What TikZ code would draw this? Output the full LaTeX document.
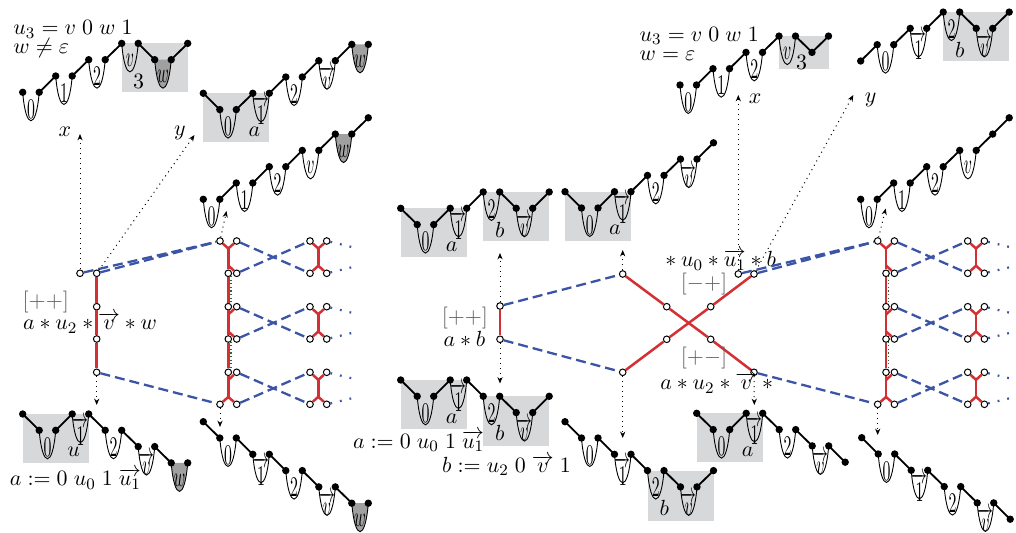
\documentclass[tikz,border=0pt]{standalone}
\usepackage{amsmath,amssymb}
\usetikzlibrary{positioning,calc,arrows.meta}

\definecolor{linkred}{RGB}{212,48,52}
\definecolor{linkblue}{RGB}{60,84,166}
\definecolor{linkgreen}{RGB}{50,100,50}
\definecolor{boxgray}{RGB}{215,216,218}
\definecolor{wgray}{RGB}{160,160,160}
\definecolor{signgray}{RGB}{95,95,95}

\pgfdeclarelayer{back}
\pgfsetlayers{back,main}

% squeezed label inside a loop
\newcommand\bublab[1]{\scalebox{.72}[1.3]{$#1$}}
\newcommand\arone{\overrightarrow{1}}
\newcommand\arv{\overrightarrow{v}}

% lattice path: name, start, steps (u = up, d = down, b = loop, g = grey loop)
\newcommand\mtn[3]{%
  \coordinate (#1-0) at #2;
  \foreach \kind/\lab [count=\i] in {#3}{%
    \pgfmathtruncatemacro\j{\i-1}%
    \if\kind u%
      \path (#1-\j) ++(16.5,-16.3) coordinate (#1-\i);
      \draw[mtnline] (#1-\j) -- (#1-\i);
    \fi
    \if\kind d%
      \path (#1-\j) ++(16.5,16.3) coordinate (#1-\i);
      \draw[mtnline] (#1-\j) -- (#1-\i);
    \fi
    \if\kind b%
      \path (#1-\j) ++(16.5,0) coordinate (#1-\i);
      \draw[bubline] (#1-\j) .. controls +(3,38) and +(-3,38) .. (#1-\i);
      \path (#1-\j) ++(8.25,17) node[inner sep=0pt] (#1-l\i) {\bublab{\lab}};
    \fi
    \if\kind g%
      \path (#1-\j) ++(16.5,0) coordinate (#1-\i);
      \filldraw[bubline, fill=wgray] (#1-\j) .. controls +(3,38) and +(-3,38) .. (#1-\i);
      \path (#1-\j) ++(8.25,17) node[inner sep=0pt] (#1-l\i) {\bublab{\lab}};
    \fi
    \xdef\mtnlast{\i}%
  }%
  \foreach \k in {0,...,\mtnlast} \node[blackdot] (#1-d\k) at (#1-\k) {};
}

% column of pairs with its three small units: name, x of column
\newcommand\ladder[2]{%
  \node[opendot] (#1t1) at (#2,241) {};
  \node[opendot] (#1t2) at (#2+16.7,241) {};
  \node[opendot] (#1b1) at (#2,404.3) {};
  \node[opendot] (#1b2) at (#2+16.7,404.3) {};
  \foreach \row/\yy in {2/273.3,3/306.7,4/339,5/372.3}{%
    \node[opendot] (#1m\row-a) at (#2+8.3,\yy) {};
    \node[opendot] (#1m\row-b) at (#2+16.7,\yy) {};
  }
  \coordinate (#1ja) at (#2+8.3,248.5);
  \coordinate (#1jb) at (#2+8.3,397);
  \draw[redline] (#1t1) -- (#1ja) -- (#1t2);
  \draw[redline] (#1b1) -- (#1jb) -- (#1b2);
  \draw[redline] (#1ja) -- (#1m2-a) -- (#1m3-a) -- (#1m4-a) -- (#1m5-a) -- (#1jb);
  \draw[redline] (#2+8.3,265.5) -- (#1m2-b);
  \draw[redline] (#2+8.3,314.5) -- (#1m3-b);
  \draw[redline] (#2+8.3,331.5) -- (#1m4-b);
  \draw[redline] (#2+8.3,380) -- (#1m5-b);
  \draw[greendot] (#1m2-a.south east) -- (#1m3-a.north east);
  \draw[greendot] (#1m4-a.south east) -- (#1m5-a.north east);
  \foreach \k/\yt/\yb/\ct/\cb in {1/241/273.3/t2/m2-b,2/306.7/339/m3-b/m4-b,3/372.3/404.3/m5-b/b2}{%
    \node[opendot] (#1u\k-a) at (#2+90,\yt) {};
    \node[opendot] (#1u\k-b) at (#2+106.7,\yt) {};
    \node[opendot] (#1u\k-c) at (#2+90,\yb) {};
    \node[opendot] (#1u\k-d) at (#2+106.7,\yb) {};
    \coordinate (#1u\k-j) at (#2+98.3,\yt+7.5);
    \coordinate (#1u\k-k) at (#2+98.3,\yb-7.5);
    \draw[redline] (#1u\k-a) -- (#1u\k-j) -- (#1u\k-b);
    \draw[redline] (#1u\k-c) -- (#1u\k-k) -- (#1u\k-d);
    \draw[redline] (#1u\k-j) -- (#1u\k-k);
    \draw[bluedash] (#1\ct) -- (#1u\k-c);
    \draw[bluedash] (#1\cb) -- (#1u\k-a);
    \coordinate (#1u\k-e) at (#2+136,\yt+7);
    \coordinate (#1u\k-f) at (#2+136,\yb-7);
    \draw[bluedot] (#1u\k-b) -- (#1u\k-e);
    \draw[bluedot] (#1u\k-d) -- (#1u\k-f);
  }
}

\begin{document}
\begin{tikzpicture}[
    x=0.5pt, y=-0.5pt,
    >={Stealth[length=3.2pt,width=2.6pt]},
    every node/.style={font=\fontsize{10.8}{13}\selectfont},
    lbl/.style={anchor=base west, inner sep=0pt},
    blackdot/.style={circle, fill=black, inner sep=0pt, minimum size=3.7pt},
    opendot/.style={circle, draw=black, fill=white, inner sep=0pt, minimum size=3.3pt, line width=0.5pt},
    mtnline/.style={line width=0.9pt},
    bubline/.style={line width=0.45pt},
    hilite/.style={fill=boxgray},
    redline/.style={draw=linkred, line width=1.25pt},
    bluedash/.style={draw=linkblue, line width=1.15pt, dash pattern=on 5pt off 2.5pt},
    bluedot/.style={draw=linkblue, line width=1.1pt, dash pattern=on 0.9pt off 4pt},
    greendot/.style={draw=linkgreen, line width=0.6pt, dash pattern=on 0.6pt off 1.2pt},
    jump/.style={->, dotted, line width=0.5pt},
    sign/.style={text=signgray}
]
\useasboundingbox (0,0) rectangle (1016,533);

% ---------------- left figure ----------------
\node[lbl] (lhead1) at (13,35) {$u_3 = v\;0\;w\;1$};
\node[lbl] (lhead2) at (13,53.5) {$w \neq \varepsilon$};

\mtn{pa}{(22.7,92.3)}{b/0,u,b/1,u,b/2,u,b/v,d,g/w,u}
\mtn{pb}{(203.3,93.3)}{d,b/0,u,b/\arone,u,b/2,u,b/\arv,u,g/w}
\mtn{pc}{(203.3,199.3)}{b/0,u,b/1,u,b/2,u,b/v,u,g/w,u}
\mtn{pd}{(22.7,414)}{d,b/0,u,b/\arone,d,b/2,d,b/\arv,d,g/w}
\mtn{pe}{(203.3,421.7)}{d,b/0,d,b/\arone,d,b/2,d,b/\arv,d,g/w}

% pair and red edge
\node[opendot] (lx) at (80,273.3) {};
\node[opendot] (ltop) at (96.7,273.3) {};
\node[opendot] (lm1) at (96.7,306.7) {};
\node[opendot] (lm2) at (96.7,339) {};
\node[opendot] (lbot) at (96.7,372.3) {};
\draw[redline] (ltop) -- (lm1) -- (lm2) -- (lbot);

\node[sign] (lsign) at (45.8,301.7) {$[{+}{+}]$};
\node[lbl] (lword) at (22.7,330) {$a*u_2*\overrightarrow{v}*w$};
\node[lbl] (ladef) at (9.5,486) {$a := 0\;u_0\;1\;\overrightarrow{u_1}$};

\ladder{c}{220}

\draw[bluedash] (lx) -- (ct1);
\draw[bluedash] (ltop) -- (ct1);
\draw[bluedash] (lbot) -- (cb1);

% arrows to the paths
\coordinate (lxt) at (80,134);
\coordinate (lyt) at (194.5,135);
\coordinate (ldn) at (96.7,405);
\coordinate (cup) at (226.5,211);
\coordinate (cdn) at (220,427);
\draw[jump] (lx) -- (lxt);
\draw[jump] (ltop) -- (lyt);
\draw[jump] (lbot) -- (ldn);
\draw[jump] (ct1) -- (cup);
\draw[jump] (cb1) -- (cdn);
\node (lxlab) at (65,132) {$x$};
\node (lylab) at (180,133) {$y$};

% ---------------- right figure ----------------
\node[lbl] (rhead1) at (639.3,41.7) {$u_3 = v\;0\;w\;1$};
\node[lbl] (rhead2) at (639.3,61) {$w = \varepsilon$};

\mtn{pf}{(680,85)}{b/0,u,b/1,u,b/2,u,b/v,d,u}
\mtn{pg}{(860.7,61)}{u,b/0,u,b/\arone,u,b/2,d,b/\arv,u}
\mtn{ph}{(860.7,199.3)}{b/0,u,b/1,u,b/2,u,b/v,u,u}
\mtn{pi}{(861.7,437.7)}{d,b/0,d,b/\arone,d,b/2,d,b/\arv,d}
\mtn{pj}{(400.7,208.3)}{d,b/0,u,b/\arone,u,b/2,d,b/\arv,u}
\mtn{pk}{(565,191.7)}{d,b/0,u,b/\arone,u,b/2,u,b/\arv,u}
\mtn{pl}{(400.7,380)}{d,b/0,u,b/\arone,d,b/2,d,b/\arv,u}
\mtn{pm}{(565,421.7)}{d,b/0,d,b/\arone,d,b/2,d,b/\arv,u}
\mtn{pn}{(696.7,413.3)}{d,b/0,u,b/\arone,d,b/2,d,b/\arv,d}

% pair with red edge
\node[opendot] (ma) at (500,306) {};
\node[opendot] (mb) at (500,339.3) {};
\draw[redline] (ma) -- (mb);
\node[sign] (msign) at (465,318.3) {$[{+}{+}]$};
\node[lbl] (mword) at (443.3,347) {$a*b$};
\node[lbl] (madef) at (352.6,448.3) {$a := 0\;u_0\;1\;\overrightarrow{u_1}$};
\node[lbl] (mbdef) at (441.7,472.5) {$b := u_2\;0\;\overrightarrow{v}\;1$};

% crossing red edges
\node[opendot] (xtl) at (622.7,274) {};
\node[opendot] (xbl) at (622.7,372.3) {};
\node[opendot] (xtr) at (754,274) {};
\node[opendot] (xbr) at (754,372.3) {};
\node[opendot] (xpair) at (738.3,274) {};
\node[opendot] (xm1) at (666.7,306.7) {};
\node[opendot] (xm2) at (710.7,339.3) {};
\node[opendot] (xm3) at (666.7,339.3) {};
\node[opendot] (xm4) at (710.7,306.7) {};
\draw[redline] (xtl) -- (xm1) -- (xm2) -- (xbr);
\draw[redline] (xbl) -- (xm3) -- (xm4) -- (xtr);
\draw[bluedash] (ma) -- (xtl);
\draw[bluedash] (mb) -- (xbl);

\node[sign] (xsign1) at (704,284) {$[{-}{+}]$};
\node[sign] (xsign2) at (704,358.3) {$[{+}{-}]$};
\node[lbl] (xword1) at (660,267) {${}*u_0*\overrightarrow{u_1}*b$};
\node[lbl] (xword2) at (660,390) {$a*u_2*\overrightarrow{v}*{}$};

\ladder{r}{877.7}

\draw[bluedash] (xpair) -- (rt1);
\draw[bluedash] (xtr) -- (rt1);
\draw[bluedash] (xbr) -- (rb1);

% arrows to the paths
\coordinate (mup) at (500,253);
\coordinate (mdn) at (500,383.5);
\coordinate (xtlup) at (622.7,250);
\coordinate (xbldn) at (622.7,438);
\coordinate (xbrdn) at (754.3,405);
\coordinate (rxt) at (738.3,95);
\coordinate (ryt) at (853.3,95);
\coordinate (rup) at (885.7,208.5);
\coordinate (rdn) at (877.7,435);
\draw[jump] (ma) -- (mup);
\draw[jump] (mb) -- (mdn);
\draw[jump] (xtl) -- (xtlup);
\draw[jump] (xbl) -- (xbldn);
\draw[jump] (xbr) -- (xbrdn);
\draw[jump] (xpair) -- (rxt);
\draw[jump] (xtr) -- (ryt);
\draw[jump] (rt1) -- (rup);
\draw[jump] (rb1) -- (rdn);
\node (rxlab) at (755,98.3) {$x$};
\node (rylab) at (870.7,100) {$y$};

% ---------------- grey boxes ----------------
\begin{pgfonlayer}{back}
  \fill[hilite] (pa-6) rectangle ($(pa-10)+(0,49)$);
  \fill[hilite] (pb-0) rectangle ($(pb-4)+(0,49)$);
  \fill[hilite] (pd-0) rectangle ($(pd-4)+(0,49)$);
  \fill[hilite] (pf-6) rectangle ($(pf-9)+(0,33)$);
  \fill[hilite] (pg-5) rectangle ($(pg-9)+(0,49)$);
  \fill[hilite] (pj-0) rectangle ($(pj-4)+(0,49)$);
  \fill[hilite] (pj-5) rectangle ($(pj-9)+(0,49)$);
  \fill[hilite] (pk-0) rectangle ($(pk-4)+(0,49)$);
  \fill[hilite] (pl-0) rectangle ($(pl-4)+(0,49)$);
  \fill[hilite] (pl-5) rectangle ($(pl-9)+(0,50)$);
  \fill[hilite] (pm-5) rectangle ($(pm-9)+(0,50)$);
  \fill[hilite] (pn-0) rectangle ($(pn-4)+(0,49)$);
\end{pgfonlayer}
\node (pa-box) at ($(pa-6)+(17,38.4)$) {$3$};
\node (pb-box) at ($(pb-0)+(51,38.4)$) {$a$};
\node (pd-box) at ($(pd-0)+(51,38)$) {$u$};
\node (pf-box) at ($(pf-6)+(22.5,26)$) {$3$};
\node (pg-box) at ($(pg-5)+(16.7,37.5)$) {$b$};
\node (pj-boxa) at ($(pj-0)+(51,38.4)$) {$a$};
\node (pj-boxb) at ($(pj-5)+(16.7,38)$) {$b$};
\node (pk-box) at ($(pk-0)+(50,38.4)$) {$a$};
\node (pl-boxa) at ($(pl-0)+(51,38.4)$) {$a$};
\node (pl-boxb) at ($(pl-5)+(16.7,37)$) {$b$};
\node (pm-box) at ($(pm-5)+(16.7,37.5)$) {$b$};
\node (pn-box) at ($(pn-0)+(51,38.4)$) {$a$};

\end{tikzpicture}
\end{document}
